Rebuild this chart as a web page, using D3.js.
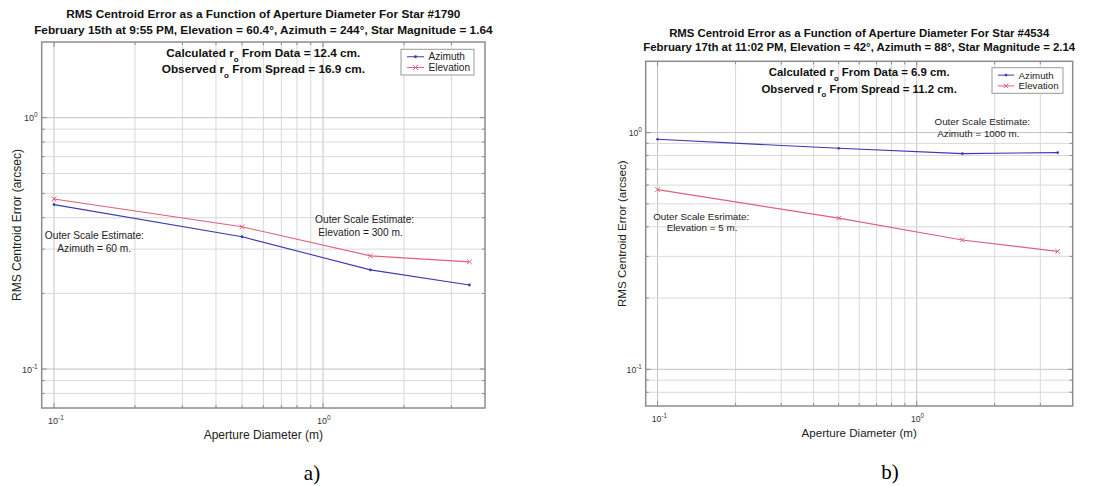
<!DOCTYPE html>
<html>
<head>
<meta charset="utf-8">
<script src="https://cdn.jsdelivr.net/npm/d3@7"></script>
<style>
  html, body { margin: 0; padding: 0; background: #fff; }
  svg { display: block; font-family: "Liberation Sans", Arial, Helvetica, sans-serif; }
</style>
</head>
<body>
<svg id="fig" width="1117" height="486"></svg>
<script>
// ---- data -------------------------------------------------------------
const apertureDiameters = [0.1, 0.5, 1.5, 3.5];          // m
const star1790Azimuth   = [0.451, 0.336, 0.248, 0.216];  // arcsec
const star1790Elevation = [0.475, 0.368, 0.282, 0.267];
const star4534Azimuth   = [0.937, 0.858, 0.815, 0.823];
const star4534Elevation = [0.574, 0.435, 0.352, 0.315];
const seriesNames = ["Azimuth", "Elevation"];
const xDomain = [0.09, 4];
const yDomain = [0.07, 2];
const majorTickValues = [0.1, 1];
const majorTickExponents = ["-1", "0"];

const titles1790 = [
  "RMS Centroid Error as a Function of Aperture Diameter For Star #1790",
  "February 15th at 9:55 PM, Elevation  = 60.4\u00B0, Azimuth = 244\u00B0, Star Magnitude = 1.64"
];
const titles4534 = [
  "RMS Centroid Error as a Function of Aperture Diameter For Star #4534",
  "February 17th at 11:02 PM, Elevation  = 42\u00B0, Azimuth = 88\u00B0, Star Magnitude = 2.14"
];
const r0Notes1790 = [["Calculated r", " From Data = 12.4 cm."], ["Observed r", " From Spread = 16.9 cm."]];
const r0Notes4534 = [["Calculated r", " From Data = 6.9 cm."], ["Observed r", " From Spread = 11.2 cm."]];
const outerNotes1790 = [
  ["Outer Scale Estimate:", "Azimuth = 60 m."],
  ["Outer Scale Estimate:", "Elevation = 300 m."]
];
const outerNotes4534 = [
  ["Outer Scale Esrimate:", "Elevation = 5 m."],
  ["Outer Scale Estimate:", "Azimuth = 1000 m."]
];
const xLabel = "Aperture Diameter (m)";
const yLabel = "RMS Centroid Error (arcsec)";

// ---- styling ----------------------------------------------------------
const COLORS = { Azimuth: "#3a3ab4", Elevation: "#e06078" };
const AXIS_COLOR = "#8c8c8c";
const GRID_MINOR = "#d9d9d9";
const GRID_MAJOR = "#c4c4c4";

const svg = d3.select("#fig");

// grid positions: every integer multiple inside each decade
function logGridValues(domain) {
  const out = [];
  const lo = Math.floor(Math.log10(domain[0]));
  const hi = Math.ceil(Math.log10(domain[1]));
  for (let e = lo; e <= hi; e++) {
    for (let k = 1; k <= 9; k++) {
      const v = k * Math.pow(10, e);
      if (v > domain[0] * 1.0001 && v < domain[1] * 0.9999) out.push(v);
    }
  }
  return out;
}

function drawPanel(p) {
  const s = p.scale;
  const g = svg.append("g");
  const x = d3.scaleLog().domain(xDomain).range([p.left, p.right]);
  const y = d3.scaleLog().domain(yDomain).range([p.bottom, p.top]);
  const cx = (p.left + p.right) / 2;

  const xGrid = logGridValues(xDomain);
  const yGrid = logGridValues(yDomain);
  const isMajor = v => Math.abs(Math.log10(v) - Math.round(Math.log10(v))) < 1e-6;

  // grid
  g.append("g").selectAll("line").data(xGrid).join("line")
    .attr("x1", d => x(d)).attr("x2", d => x(d))
    .attr("y1", p.top).attr("y2", p.bottom)
    .attr("stroke", d => isMajor(d) ? GRID_MAJOR : GRID_MINOR)
    .attr("stroke-width", 1);
  g.append("g").selectAll("line").data(yGrid).join("line")
    .attr("y1", d => y(d)).attr("y2", d => y(d))
    .attr("x1", p.left).attr("x2", p.right)
    .attr("stroke", d => isMajor(d) ? GRID_MAJOR : GRID_MINOR)
    .attr("stroke-width", 1);

  // inward ticks on all four sides
  const tk = g.append("g").attr("stroke", AXIS_COLOR).attr("stroke-width", 1);
  xGrid.forEach(v => {
    const L = isMajor(v) ? 5 : 3;
    tk.append("line").attr("x1", x(v)).attr("x2", x(v)).attr("y1", p.bottom).attr("y2", p.bottom - L);
    tk.append("line").attr("x1", x(v)).attr("x2", x(v)).attr("y1", p.top).attr("y2", p.top + L);
  });
  yGrid.forEach(v => {
    const L = isMajor(v) ? 5 : 3;
    tk.append("line").attr("y1", y(v)).attr("y2", y(v)).attr("x1", p.left).attr("x2", p.left + L);
    tk.append("line").attr("y1", y(v)).attr("y2", y(v)).attr("x1", p.right).attr("x2", p.right - L);
  });

  // frame
  g.append("rect")
    .attr("x", p.left).attr("y", p.top)
    .attr("width", p.right - p.left).attr("height", p.bottom - p.top)
    .attr("fill", "none").attr("stroke", AXIS_COLOR).attr("stroke-width", 1.5);

  // tick labels (powers of ten)
  const tickFs = 9 * s, expFs = 6.5 * s;
  majorTickValues.forEach((v, i) => {
    const t = g.append("text")
      .attr("x", x(v) - 6 * s).attr("y", p.xTickY + 3.5 * s)
      .attr("font-size", tickFs).attr("fill", "#333");
    t.append("tspan").text("10");
    t.append("tspan").attr("dy", -4 * s).attr("font-size", expFs).text(majorTickExponents[i]);

    const ty = g.append("text")
      .attr("x", p.left - 4 * s).attr("y", y(v) + 3.5 * s)
      .attr("text-anchor", "end")
      .attr("font-size", tickFs).attr("fill", "#333");
    ty.append("tspan").text("10");
    ty.append("tspan").attr("dy", -4 * s).attr("font-size", expFs).text(majorTickExponents[i]);
  });

  // axis labels
  g.append("text")
    .attr("x", cx).attr("y", p.xLabelY + 4 * s)
    .attr("text-anchor", "middle").attr("font-size", 12 * s).attr("fill", "#222")
    .text(xLabel);
  g.append("text")
    .attr("transform", `translate(${p.yLabelX + 4 * s},${(p.top + p.bottom) / 2}) rotate(-90)`)
    .attr("text-anchor", "middle").attr("font-size", 12 * s).attr("fill", "#222")
    .text(yLabel);

  // titles
  p.titles.forEach((txt, i) => {
    g.append("text")
      .attr("x", cx).attr("y", p.titleY[i] + 4.2 * s)
      .attr("text-anchor", "middle").attr("font-size", 11.8 * s)
      .attr("font-weight", "bold").attr("fill", "#111")
      .text(txt);
  });

  // r0 notes with subscript o
  p.r0Notes.forEach((parts, i) => {
    const t = g.append("text")
      .attr("x", cx).attr("y", p.r0Y[i] + 4.2 * s)
      .attr("text-anchor", "middle").attr("font-size", 11.8 * s)
      .attr("font-weight", "bold").attr("fill", "#111");
    t.append("tspan").text(parts[0]);
    t.append("tspan").attr("dy", 5 * s).attr("font-size", 8 * s).text("o");
    t.append("tspan").attr("dy", -5 * s).text(parts[1]);
  });

  // outer-scale notes
  p.outerNotes.forEach((lines, i) => {
    const pos = p.outerPos[i];
    lines.forEach((ln, j) => {
      g.append("text")
        .attr("x", pos.x[j]).attr("y", pos.y[j] + 3.7 * s)
        .attr("text-anchor", "middle").attr("font-size", 10.2 * s).attr("fill", "#222")
        .text(ln);
    });
  });

  // series
  const series = [
    { name: seriesNames[0], values: p.azimuth },
    { name: seriesNames[1], values: p.elevation }
  ];
  const line = d3.line().x(d => x(d[0])).y(d => y(d[1]));
  series.forEach(sr => {
    const pts = apertureDiameters.map((d, i) => [d, sr.values[i]]);
    g.append("path").datum(pts)
      .attr("d", line).attr("fill", "none")
      .attr("stroke", COLORS[sr.name]).attr("stroke-width", 1.1);
    drawMarkers(g, pts.map(d => [x(d[0]), y(d[1])]), sr.name, s);
  });

  // legend
  const lg = g.append("g");
  const lb = p.legend;
  lg.append("rect").attr("x", lb.x).attr("y", lb.y).attr("width", lb.w).attr("height", lb.h)
    .attr("fill", "#fff").attr("stroke", "#999").attr("stroke-width", 1);
  seriesNames.forEach((nm, i) => {
    const cy = lb.y + lb.h * (i === 0 ? 0.29 : 0.71);
    const x0 = lb.x + 6 * s, x1 = lb.x + 23 * s;
    lg.append("line").attr("x1", x0).attr("x2", x1).attr("y1", cy).attr("y2", cy)
      .attr("stroke", COLORS[nm]).attr("stroke-width", 1);
    drawMarkers(lg, [[(x0 + x1) / 2, cy]], nm, s);
    lg.append("text").attr("x", lb.x + 27.5 * s).attr("y", cy + 3.6 * s)
      .attr("font-size", 10.1 * s).attr("fill", "#222").text(nm);
  });

  // panel caption
  g.append("text")
    .attr("x", p.captionX).attr("y", p.captionY + 7)
    .attr("text-anchor", "middle")
    .attr("font-family", "'Liberation Serif', 'Times New Roman', serif")
    .attr("font-size", 21).attr("fill", "#000")
    .text(p.caption);
}

function drawMarkers(g, pts, name, s) {
  const c = COLORS[name];
  if (name === "Azimuth") {
    g.append("g").selectAll("circle").data(pts).join("circle")
      .attr("cx", d => d[0]).attr("cy", d => d[1]).attr("r", 1.4 * s).attr("fill", c);
  } else {
    const r = 2.4 * s;
    g.append("g").selectAll("path").data(pts).join("path")
      .attr("d", d => `M${d[0] - r},${d[1] - r}L${d[0] + r},${d[1] + r}M${d[0] - r},${d[1] + r}L${d[0] + r},${d[1] - r}`)
      .attr("stroke", c).attr("stroke-width", 1).attr("fill", "none");
  }
}

drawPanel({
  scale: 1,
  left: 41.7, right: 485, top: 42, bottom: 408,
  azimuth: star1790Azimuth, elevation: star1790Elevation,
  titles: titles1790, titleY: [14, 29.5],
  r0Y: [53, 69], r0Notes: r0Notes1790,
  outerNotes: outerNotes1790,
  outerPos: [{ x: [94.4, 94.2], y: [235, 248.3] }, { x: [364.6, 360.5], y: [219.3, 232.7] }],
  legend: { x: 401, y: 49.3, w: 73, h: 25.7 },
  xTickY: 420, yLabelX: 16.7, xLabelY: 435,
  caption: "a)", captionX: 312, captionY: 473
});

drawPanel({
  scale: 0.965,
  left: 645.7, right: 1072.7, top: 61.3, bottom: 406,
  azimuth: star4534Azimuth, elevation: star4534Elevation,
  titles: titles4534, titleY: [32.5, 47],
  r0Y: [72, 88.5], r0Notes: r0Notes4534,
  outerNotes: outerNotes4534,
  outerPos: [{ x: [701.2, 702], y: [216, 227.5] }, { x: [982.3, 978.3], y: [121.7, 133.3] }],
  legend: { x: 992, y: 67.7, w: 71, h: 25.6 },
  xTickY: 418.3, yLabelX: 622.5, xLabelY: 433.3,
  caption: "b)", captionX: 890, captionY: 472
});
</script>
</body>
</html>
